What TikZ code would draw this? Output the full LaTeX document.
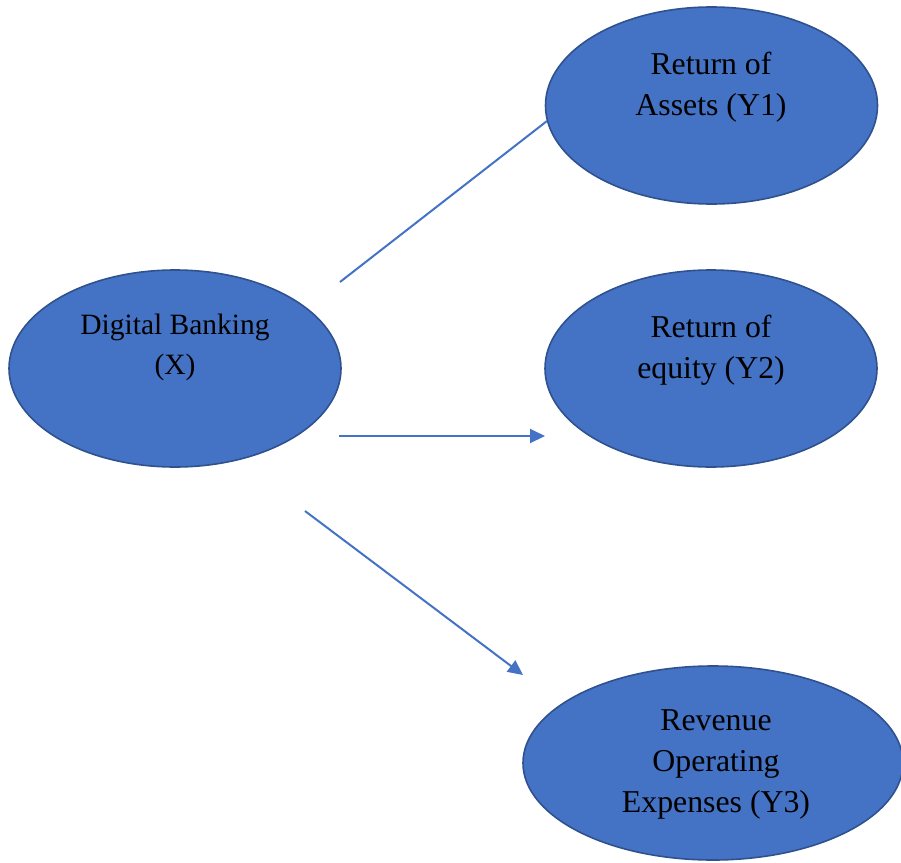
\documentclass[tikz,border=0pt]{standalone}
\usepackage{fontspec}
\setmainfont{Liberation Serif}
\usetikzlibrary{shapes.geometric,arrows.meta}
\definecolor{nodefill}{HTML}{4472C4}
\definecolor{nodeline}{HTML}{2F528F}
\begin{document}
\begin{tikzpicture}[x=1pt,y=-1pt,
  bubble/.style={ellipse, fill=nodefill, draw=nodeline, line width=1.6pt,
    inner sep=0pt, minimum width=332pt, minimum height=197pt},
  caption/.style={align=center, text=black, anchor=base,
    font=\fontsize{31.8}{40.8}\selectfont},
  link/.style={draw=nodefill, line width=2pt},
  arrowlink/.style={link, -{Triangle[length=15pt,width=14pt]}}]
  \useasboundingbox (0,0) rectangle (901,862);
  \clip (0,0) rectangle (901,862);

  % variables
  \node[bubble] (X)  at (175,368.5) {};
  \node[bubble] (Y1) at (711.5,105.5) {};
  \node[bubble] (Y2) at (711,368.5) {};
  \node[bubble, minimum width=380pt, minimum height=194pt] (Y3) at (713,763) {};

  % labels, placed by the baseline of their last line
  \node[caption, font=\fontsize{29.5}{40}\selectfont] (tX) at (175,374) {Digital Banking\\(X)};
  \node[caption] (t1) at (711,115) {Return of\\Assets (Y1)};
  \node[caption] (t2) at (711,378) {Return of\\equity (Y2)};
  \node[caption] (t3) at (716,812) {Revenue\\Operating\\Expenses (Y3)};

  % connectors
  \coordinate (a1s) at (340,282);
  \coordinate (a1e) at (547,121);
  \coordinate (a2s) at (339,436);
  \coordinate (a2e) at (545,436);
  \coordinate (a3s) at (305,511);
  \coordinate (a3e) at (523,675);
  \draw[link] (a1s) -- (a1e);
  \draw[arrowlink] (a2s) -- (a2e);
  \draw[arrowlink] (a3s) -- (a3e);
\end{tikzpicture}
\end{document}
